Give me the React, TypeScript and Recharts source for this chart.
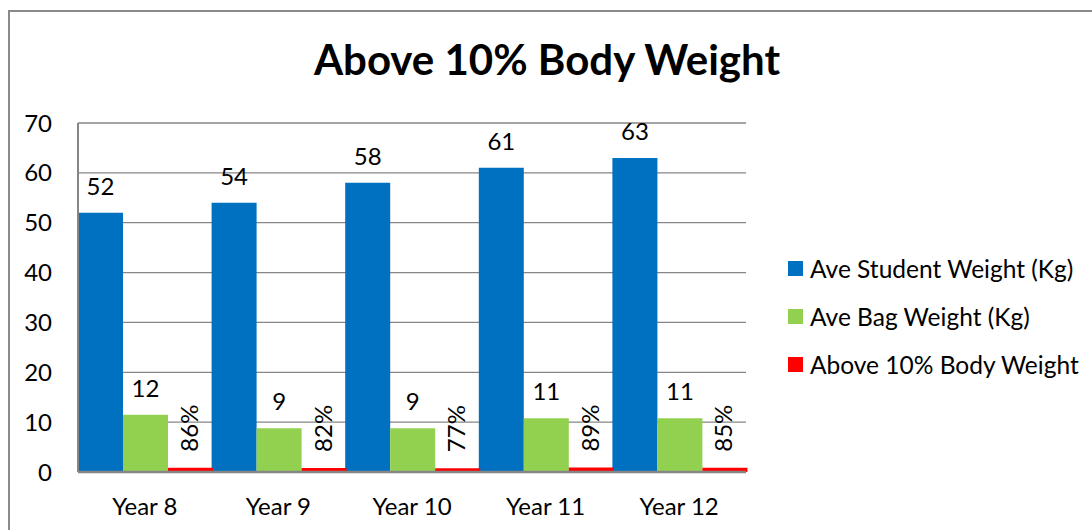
import { BarChart, Bar, XAxis, YAxis, CartesianGrid, Legend, LabelList } from "recharts";

const categories = ["Year 8", "Year 9", "Year 10", "Year 11", "Year 12"];
const studentWeight = [52, 54, 58, 61, 63];
const bagWeight = [11.5, 8.8, 8.8, 10.8, 10.8];
const aboveTen = [0.86, 0.82, 0.77, 0.89, 0.85];
const yTicks = [0, 10, 20, 30, 40, 50, 60, 70];

const seriesNames = ["Ave Student Weight (Kg)", "Ave Bag Weight (Kg)", "Above 10% Body Weight"];
const seriesColors = ["#0070C0", "#92D050", "#FF0000"];

const data = categories.map((name, i) => ({
  name,
  student: studentWeight[i],
  bag: bagWeight[i],
  above: aboveTen[i],
}));

const FONT = "Lato, 'DejaVu Sans', sans-serif";
const FS = 24;
const GRAY = "#868686";

// rotated % label above the tiny red bar
function PercentLabel(props: any) {
  const { x, y, width, value } = props;
  const cx = x + width / 2 - 2;
  const cy = y - 16;
  return (
    <text
      x={cx}
      y={cy}
      transform={`rotate(-90 ${cx} ${cy})`}
      textAnchor="start"
      dominantBaseline="central"
      fontSize={FS}
      fontFamily={FONT}
      fill="#000"
    >
      {`${Math.round(Number(value) * 100)}%`}
    </text>
  );
}

function LegendBox() {
  return (
    <div style={{ fontFamily: FONT, fontSize: 24.5, color: "#000" }}>
      {seriesNames.map((n, i) => (
        <div key={n} style={{ display: "flex", alignItems: "center", height: 48 }}>
          <span
            style={{
              display: "inline-block",
              width: 15,
              height: 15,
              background: seriesColors[i],
              marginRight: 7,
            }}
          />
          <span>{n}</span>
        </div>
      ))}
    </div>
  );
}

export default function App() {
  return (
    <div style={{ position: "absolute", left: 0, top: 0, width: 1092, height: 530, overflow: "hidden", background: "#fff" }}>
      <BarChart
        width={1092}
        height={530}
        data={data}
        margin={{ top: 123, right: 346, bottom: 28, left: 0 }}
        barCategoryGap={0}
        barGap={0}
      >
        <CartesianGrid vertical={false} stroke={GRAY} strokeWidth={1.3} />
        <XAxis
          dataKey="name"
          height={30}
          tickSize={0}
          tickMargin={26}
          axisLine={{ stroke: GRAY, strokeWidth: 2.5 }}
          tickLine={false}
          tick={{ fill: "#000", fontSize: FS, fontFamily: FONT }}
        />
        <YAxis
          width={78}
          domain={[0, 70]}
          ticks={yTicks}
          tickSize={0}
          tickMargin={26}
          axisLine={{ stroke: GRAY, strokeWidth: 2 }}
          tickLine={false}
          tick={{ fill: "#000", fontSize: FS, fontFamily: FONT }}
        />
        <Legend
          layout="horizontal"
          verticalAlign="middle"
          align="center"
          content={() => <LegendBox />}
          wrapperStyle={{ position: "absolute", left: 788, top: 244, width: 300 }}
        />
        <Bar dataKey="student" name={seriesNames[0]} fill={seriesColors[0]} isAnimationActive={false}>
          <LabelList dataKey="student" position="top" offset={18} fill="#000" fontSize={FS} fontFamily={FONT} />
        </Bar>
        <Bar dataKey="bag" name={seriesNames[1]} fill={seriesColors[1]} isAnimationActive={false}>
          <LabelList
            dataKey="bag"
            position="top"
            offset={18}
            fill="#000"
            fontSize={FS}
            fontFamily={FONT}
            formatter={(v: any) => Math.round(Number(v))}
          />
        </Bar>
        <Bar dataKey="above" name={seriesNames[2]} fill={seriesColors[2]} isAnimationActive={false}>
          <LabelList dataKey="above" content={PercentLabel} />
        </Bar>
      </BarChart>
      <svg width={1092} height={530} style={{ position: "absolute", left: 0, top: 0, pointerEvents: "none" }}>
        <rect x={9} y={11} width={1200} height={600} fill="none" stroke="#8a8a8a" strokeWidth={2} />
        <text x={547} y={75} textAnchor="middle" fontSize={42} fontWeight="bold" fontFamily={FONT} fill="#000">
          Above 10% Body Weight
        </text>
      </svg>
    </div>
  );
}
